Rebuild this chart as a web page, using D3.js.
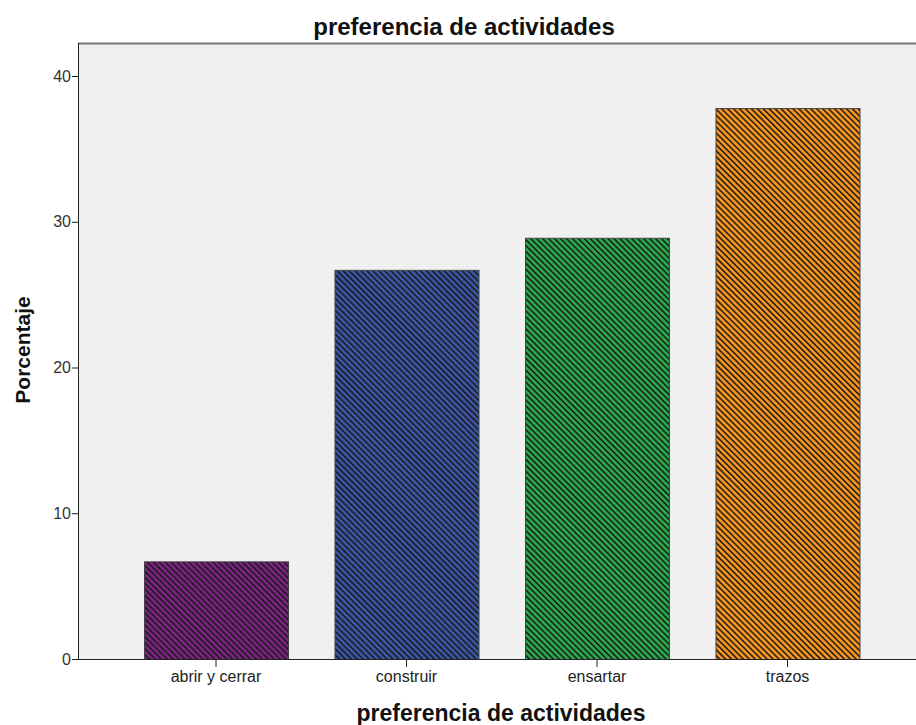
<!DOCTYPE html>
<html><head><meta charset="utf-8">
<script src="https://cdn.jsdelivr.net/npm/d3@7"></script>
<style>body{margin:0;background:#fff}svg{display:block}text{font-family:Arial,"Liberation Sans",sans-serif}</style>
</head><body><svg id="c" width="916" height="725"></svg>
<script>
const categories = ["abrir y cerrar","construir","ensartar","trazos"];
const values = [6.7, 26.7, 28.9, 37.8];
const colors = ["#7c2281","#3a54a6","#2aa84b","#f7951f"];
const yTicks = [0,10,20,30,40];

const svg = d3.select("#c");
const plot = {left:78, top:43, right:916, bottom:659};

const x = d3.scaleBand().domain(categories).range([120.75,882.75]).paddingInner(0.244).paddingOuter(0.122);
const y = d3.scaleLinear().domain([0,40]).range([659,76]);

const defs = svg.append("defs");
categories.forEach((c,i)=>{
  const p = defs.append("pattern").attr("id","h"+i).attr("patternUnits","userSpaceOnUse")
    .attr("width",4.2).attr("height",4.2).attr("patternTransform","rotate(-45)");
  p.append("rect").attr("width",4.2).attr("height",4.2).attr("fill",colors[i]);
  p.append("rect").attr("width",1.5).attr("height",4.2).attr("fill","#1a1a1a");
});

svg.append("rect").attr("x",plot.left).attr("y",plot.top).attr("width",plot.right-plot.left).attr("height",plot.bottom-plot.top).attr("fill","#f0f0f0");
svg.append("line").attr("x1",plot.left).attr("x2",plot.right).attr("y1",plot.top+0.5).attr("y2",plot.top+0.5).attr("stroke","#777").attr("stroke-width",2);

svg.append("g").selectAll("rect").data(values).join("rect")
  .attr("x",(d,i)=>x(categories[i])+0.5).attr("width",x.bandwidth())
  .attr("y",d=>y(d)+0.5).attr("height",d=>y(0)-y(d))
  .attr("fill",(d,i)=>`url(#h${i})`).attr("stroke","#444").attr("stroke-width",1);

const ya = svg.append("g").attr("transform",`translate(${plot.left},0)`)
  .call(d3.axisLeft(y).tickValues(yTicks).tickSize(6).tickPadding(1).tickSizeOuter(0));
ya.select(".domain").attr("stroke","#222").attr("d",`M0.5,${plot.top}V${plot.bottom}`);
ya.selectAll(".tick line").attr("stroke","#222");
ya.selectAll("text").attr("font-size",16).attr("fill","#333").attr("font-family","Arial,'Liberation Sans',sans-serif");

const xa = svg.append("g").attr("transform",`translate(0,${plot.bottom})`)
  .call(d3.axisBottom(x).tickSize(8).tickPadding(4).tickSizeOuter(0));
xa.select(".domain").attr("stroke","#222").attr("d",`M${plot.left},0.5H${plot.right}`);
xa.selectAll(".tick line").attr("stroke","#222");
xa.selectAll("text").attr("font-size",16).attr("fill","#222").attr("font-family","Arial,'Liberation Sans',sans-serif");

svg.append("text").attr("x",464).attr("y",35).attr("text-anchor","middle").attr("font-size",24).attr("font-weight","bold").attr("fill","#111").text("preferencia de actividades");
svg.append("text").attr("x",501).attr("y",721).attr("text-anchor","middle").attr("font-size",23).attr("font-weight","bold").attr("fill","#111").text("preferencia de actividades");
svg.append("text").attr("transform","translate(30,350) rotate(-90)").attr("text-anchor","middle").attr("font-size",21).attr("font-weight","bold").attr("fill","#111").text("Porcentaje");
</script></body></html>
